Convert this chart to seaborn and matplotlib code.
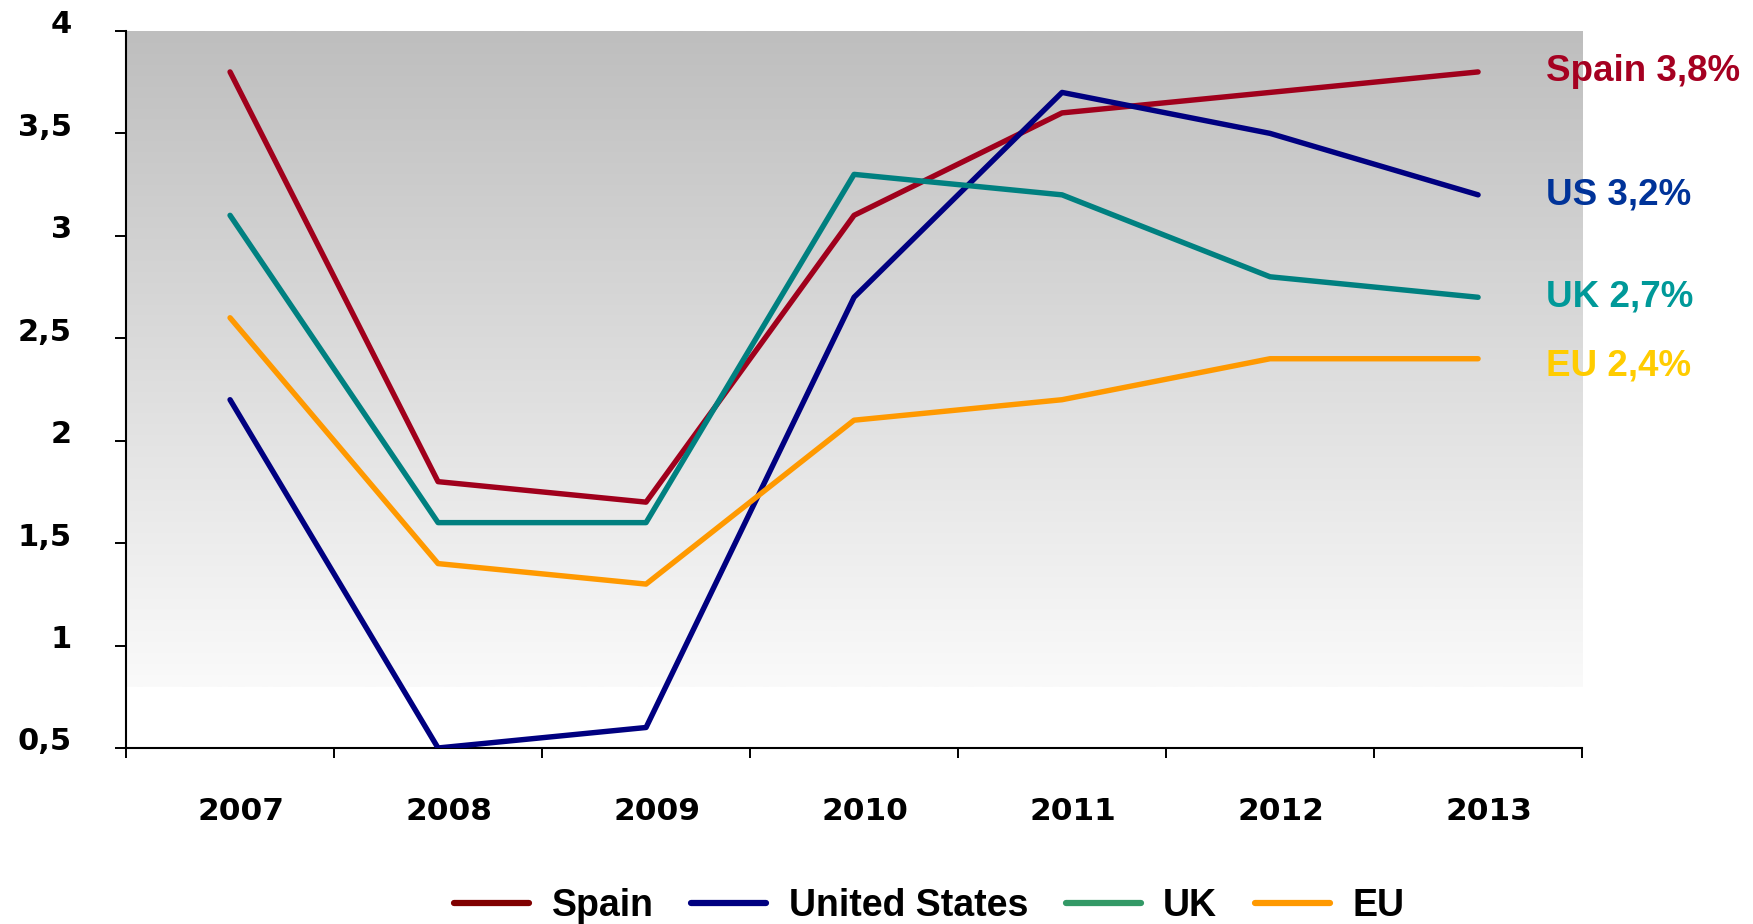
import numpy as np
import pandas as pd
import matplotlib
matplotlib.use("Agg")
import matplotlib.pyplot as plt
import matplotlib.transforms as mtransforms
from matplotlib.lines import Line2D
from matplotlib import font_manager
import seaborn as sns

# ---- data -------------------------------------------------------------
years = ["2007", "2008", "2009", "2010", "2011", "2012", "2013"]
spain = [3.8, 1.8, 1.7, 3.1, 3.6, 3.7, 3.8]
united_states = [2.2, 0.5, 0.6, 2.7, 3.7, 3.5, 3.2]
uk = [3.1, 1.6, 1.6, 3.3, 3.2, 2.8, 2.7]
eu = [2.6, 1.4, 1.3, 2.1, 2.2, 2.4, 2.4]

series_names = ["Spain", "United States", "UK", "EU"]
end_labels = ["Spain 3,8%", "US 3,2%", "UK 2,7%", "EU 2,4%"]
y_ticks = [0.5, 1, 1.5, 2, 2.5, 3, 3.5, 4]

line_colors = {"Spain": "#A0001C", "United States": "#000080",
               "UK": "#008080", "EU": "#FF9900"}
label_colors = {"Spain": "#A50021", "United States": "#003399",
                "UK": "#009999", "EU": "#FFCC00"}
legend_colors = {"Spain": "#800000", "United States": "#000080",
                 "UK": "#339966", "EU": "#FF9900"}

values = {"Spain": spain, "United States": united_states, "UK": uk, "EU": eu}
df = pd.DataFrame(
    [(name, yr, v) for name in series_names for yr, v in zip(years, values[name])],
    columns=["series", "year", "value"],
)

# ---- figure ------------------------------------------------------------
sns.set_theme(style="white")
plt.rcParams["font.family"] = ["DejaVu Sans"]
plt.rcParams["text.color"] = "black"
plt.rcParams["xtick.color"] = "black"
plt.rcParams["ytick.color"] = "black"

available = {f.name for f in font_manager.fontManager.ttflist}
narrow = "Liberation Sans Narrow" in available
legend_family = "Liberation Sans Narrow" if narrow else "Liberation Sans"

fig = plt.figure(figsize=(17.53, 9.24), dpi=100)
ax = fig.add_axes([0.0719, 0.1905, 0.8306, 0.776])

# plot-area gradient (dark grey at the top fading to near white)
grad = np.linspace(0, 1, 256).reshape(-1, 1)
ax.imshow(grad, extent=(-0.5, 6.5, 0.8, 4.0), origin="upper", aspect="auto",
          cmap=matplotlib.colors.LinearSegmentedColormap.from_list(
              "bg", ["#BEBEBE", "#FAFAFA"]),
          zorder=0, interpolation="bilinear")

sns.lineplot(data=df, x="year", y="value", hue="series", hue_order=series_names,
             palette=line_colors, linewidth=3.9, legend=False, ax=ax, zorder=3,
             sort=False)

ax.set_xlim(-0.5, 6.5)
ax.set_ylim(0.5, 4.0)
ax.set_xlabel("")
ax.set_ylabel("")

# axes styling
for side in ("top", "right"):
    ax.spines[side].set_visible(False)
for side in ("left", "bottom"):
    ax.spines[side].set_color("black")
    ax.spines[side].set_linewidth(1.5)

ax.set_yticks(y_ticks)
ax.set_yticklabels([f"{t:g}".replace(".", ",") for t in y_ticks])
ax.tick_params(axis="y", direction="out", length=8, width=1.4,
               left=True, pad=31, labelsize=22)
for lab in ax.get_yticklabels():
    lab.set_fontweight("bold")
    lab.set_transform(lab.get_transform() +
                      mtransforms.ScaledTranslation(0, 0.09, fig.dpi_scale_trans))

ax.set_xticks(range(len(years)))
ax.set_xticklabels(years)
ax.set_xticks(np.arange(-0.5, len(years), 1.0), minor=True)
ax.tick_params(axis="x", which="major", length=0, pad=35, labelsize=22.5)
ax.tick_params(axis="x", which="minor", direction="out", length=7, width=1.4,
               bottom=True)
for lab in ax.get_xticklabels():
    lab.set_fontweight("bold")
    lab.set_transform(lab.get_transform() +
                      mtransforms.ScaledTranslation(0.11, 0, fig.dpi_scale_trans))

# value labels at the end of each line
offsets = {"Spain": 0, "United States": 0, "UK": 0, "EU": -5}
for name, text in zip(series_names, end_labels):
    ax.annotate(text, xy=(len(years) - 1, values[name][-1]),
                xytext=(49, offsets[name]), textcoords="offset points",
                ha="left", va="center", fontsize=26.5, fontweight="bold",
                family="Liberation Sans", color=label_colors[name],
                annotation_clip=False)

# legend
handles = [Line2D([], [], color=legend_colors[n], linewidth=4.5,
                  solid_capstyle="round") for n in series_names]
fig.legend(handles, series_names, loc="center", bbox_to_anchor=(0.53, 0.019),
           ncol=4, frameon=False, handlelength=2.0, handletextpad=0.6,
           columnspacing=1.0,
           prop={"family": legend_family, "weight": "bold",
                 "size": 30 if narrow else 27})

fig.savefig("out.png", dpi=100)
